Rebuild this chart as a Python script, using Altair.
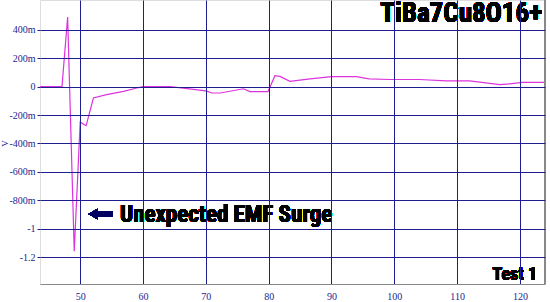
import altair as alt
import pandas as pd

# Data
xs = [43.6, 47.1, 48.0, 49.05, 50.0, 50.95, 52.1, 54.2, 56.9, 59.0, 60.0, 64.3, 66.4,
      70.0, 71.0, 72.3, 76.0, 77.0, 79.9, 81.0, 81.8, 83.4, 86.6, 90.0, 94.0, 96.0,
      99.3, 104.0, 108.3, 112.0, 116.8, 118.4, 120.4, 124.0]
volts = [0.0, 0.0, 0.49, -1.16, -0.25, -0.275, -0.08, -0.056, -0.033, -0.01, 0.0, 0.0, -0.01,
         -0.03, -0.045, -0.045, -0.015, -0.035, -0.035, 0.077, 0.072, 0.037, 0.055, 0.07, 0.07, 0.055,
         0.05, 0.05, 0.04, 0.04, 0.014, 0.02, 0.03, 0.03]
x_ticks = [50, 60, 70, 80, 90, 100, 110, 120]
y_ticks = [-1.2, -1.0, -0.8, -0.6, -0.4, -0.2, 0.0, 0.2, 0.4]
title_text = "TiBa7Cu8O16+"
note_text = "Unexpected EMF Surge"
corner_text = "Test 1"

df = pd.DataFrame({"x": xs, "v": volts})

NAVY = "#1e1e90"
SERIF = "Liberation Serif"
NARROW = "Roboto Condensed, DejaVu Sans Condensed, sans-serif"
W, H = 505, 284

xscale = alt.Scale(domain=[43.6, 124], nice=False, zero=False)
yscale = alt.Scale(domain=[-1.39, 0.61], nice=False, zero=False)

ylabel_expr = (
    "datum.value == 0 ? '0' : "
    "((datum.value < 0 ? '-' : '') + "
    "(abs(datum.value) >= 0.999 ? format(abs(datum.value), '') : format(abs(datum.value) * 1000, 'd') + 'm'))"
)

line = alt.Chart(df).mark_line(color="#dd33dd", strokeWidth=1.2, clip=True).encode(
    x=alt.X("x:Q", scale=xscale, axis=alt.Axis(
        values=x_ticks, title=None, grid=True, gridColor=NAVY, gridOpacity=1, gridWidth=1,
        domainColor="#888888", domainWidth=1, tickSize=0, labelPadding=7, zindex=1,
        labelFont=SERIF, labelFontSize=10, labelColor=NAVY, labelFlush=False)),
    y=alt.Y("v:Q", scale=yscale, axis=alt.Axis(
        values=y_ticks, title="V", grid=True, gridColor=NAVY, gridOpacity=1, gridWidth=1,
        domain=False, tickSize=3, tickColor=NAVY, labelPadding=2, zindex=1,
        labelFont=SERIF, labelFontSize=10, labelColor=NAVY, labelFlush=False,
        labelExpr=ylabel_expr,
        titleFont=SERIF, titleFontSize=9, titleFontWeight="normal", titleColor=NAVY,
        titleAngle=-90, titleX=-31, titleY=143, titleAlign="center")),
)

border = alt.Chart(df).mark_rule(color="#888888", strokeWidth=1).encode(
    x=alt.value(W), y=alt.value(0), y2=alt.value(H))

title = alt.Chart(df).mark_text(
    text=title_text, font=NARROW, fontSize=27, fontWeight="bold", color="black",
    align="right", baseline="alphabetic").encode(x=alt.value(502), y=alt.value(22))

corner = alt.Chart(df).mark_text(
    text=corner_text, font=NARROW, fontSize=18, fontWeight="bold", color="black",
    align="right", baseline="alphabetic").encode(x=alt.value(497), y=alt.value(280))

note = alt.Chart(df).mark_text(
    text=note_text, font=NARROW, fontSize=23, fontWeight="bold", color="black",
    align="left", baseline="alphabetic").encode(x=alt.value(80), y=alt.value(222))

shaft = alt.Chart(df).mark_rule(color="#000060", strokeWidth=5).encode(
    x=alt.value(55), x2=alt.value(73), y=alt.value(214))
head = alt.Chart(df).mark_point(shape="triangle-left", filled=True, color="#000060",
                                size=110, opacity=1).encode(x=alt.value(53), y=alt.value(214))

chart = alt.layer(line, border, title, corner, note, shaft, head).properties(
    width=W, height=H,
    autosize=alt.AutoSizeParams(type="none"),
    padding={"left": 40, "top": 0, "right": 5, "bottom": 18},
).configure_view(stroke=None).configure(background="white")

chart.save("out.html", embed_options={"renderer": "svg", "actions": False})
